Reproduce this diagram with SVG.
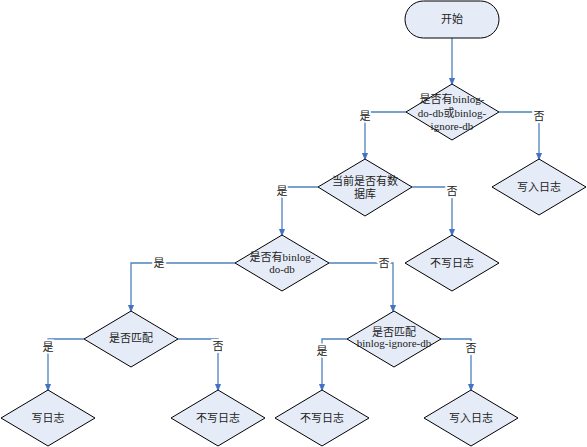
<svg xmlns="http://www.w3.org/2000/svg" width="587" height="447" viewBox="0 0 587 447">
<defs>
<marker id="arr" markerWidth="8" markerHeight="10" refX="8" refY="4" orient="auto" markerUnits="userSpaceOnUse" viewBox="0 0 10 8">
<path d="M0,0 L10,4 L0,8 z" fill="#4472C4"/>
</marker>
</defs>
<style>
.node{fill:#E6ECF7;stroke:#000;stroke-width:1}
.t{font-family:"Liberation Serif","Noto Sans CJK SC",serif;font-size:11px;fill:#222;text-anchor:middle}
.c{fill:none;stroke:#4F81BD;stroke-width:1.3}
.lbl{font-family:"Liberation Serif","Noto Sans CJK SC",serif;font-size:11px;fill:#222;text-anchor:middle;stroke:#fff;stroke-width:4;paint-order:stroke}
</style>
<rect width="587" height="447" fill="#fff"/>
<g id="connectors">
<path class="c" d="M452,38 L452,84" marker-end="url(#arr)"/>
<path class="c" d="M499,112 L539,112 L539,159" marker-end="url(#arr)"/>
<path class="c" d="M406,112 L365,112 L365,159" marker-end="url(#arr)"/>
<path class="c" d="M412,187 L452,187 L452,235" marker-end="url(#arr)"/>
<path class="c" d="M318,187 L282,187 L282,235" marker-end="url(#arr)"/>
<path class="c" d="M329,263 L393,263 L393,311" marker-end="url(#arr)"/>
<path class="c" d="M235,263 L131,263 L131,311" marker-end="url(#arr)"/>
<path class="c" d="M84,339 L48,339 L48,390" marker-end="url(#arr)"/>
<path class="c" d="M178,339 L218,339 L218,390" marker-end="url(#arr)"/>
<path class="c" d="M347,339 L322,339 L322,390" marker-end="url(#arr)"/>
<path class="c" d="M441,339 L471,339 L471,390" marker-end="url(#arr)"/>
<text class="lbl" x="539" y="120">否</text>
<text class="lbl" x="365" y="120">是</text>
<text class="lbl" x="452" y="195">否</text>
<text class="lbl" x="282" y="195">是</text>
<text class="lbl" x="384" y="267">否</text>
<text class="lbl" x="159" y="267">是</text>
<text class="lbl" x="48" y="351">是</text>
<text class="lbl" x="218" y="350">否</text>
<text class="lbl" x="322" y="355">是</text>
<text class="lbl" x="471" y="352">否</text>
</g>
<g id="start">
<rect class="node" x="405" y="1" width="94" height="37" rx="18.5"/>
<text class="t" x="452" y="23">开始</text>
</g>
<g id="d1">
<polygon class="node" points="452,84 499,112 452,140 406,112"/>
<text class="t" x="452" y="103">是否有binlog-</text>
<text class="t" x="452" y="117">do-db或binlog-</text>
<text class="t" x="452" y="130">ignore-db</text>
</g>
<g id="w1">
<polygon class="node" points="539,159 586,187 539,215 492,187"/>
<text class="t" x="539" y="191">写入日志</text>
</g>
<g id="d2">
<polygon class="node" points="365,159 412,187 365,216 318,187"/>
<text class="t" x="365" y="185">当前是否有数</text>
<text class="t" x="365" y="198">据库</text>
</g>
<g id="nw1">
<polygon class="node" points="452,235 499,263 452,291 405,263"/>
<text class="t" x="452" y="267">不写日志</text>
</g>
<g id="d3">
<polygon class="node" points="282,235 329,263 282,291 235,263"/>
<text class="t" x="282" y="261">是否有binlog-</text>
<text class="t" x="282" y="273">do-db</text>
</g>
<g id="d4">
<polygon class="node" points="394,311 441,339 394,367 347,339"/>
<text class="t" x="394" y="336">是否匹配</text>
<text class="t" x="394" y="347">binlog-ignore-db</text>
</g>
<g id="d5">
<polygon class="node" points="131,311 178,339 131,367 84,339"/>
<text class="t" x="131" y="342">是否匹配</text>
</g>
<g id="w2">
<polygon class="node" points="48,390 95,418 48,446 1,418"/>
<text class="t" x="48" y="422">写日志</text>
</g>
<g id="nw2">
<polygon class="node" points="218,390 265,418 218,446 171,418"/>
<text class="t" x="218" y="422">不写日志</text>
</g>
<g id="nw3">
<polygon class="node" points="322,390 369,418 322,446 275,418"/>
<text class="t" x="322" y="422">不写日志</text>
</g>
<g id="w3">
<polygon class="node" points="471,390 518,418 471,446 424,418"/>
<text class="t" x="471" y="422">写入日志</text>
</g>
</svg>
